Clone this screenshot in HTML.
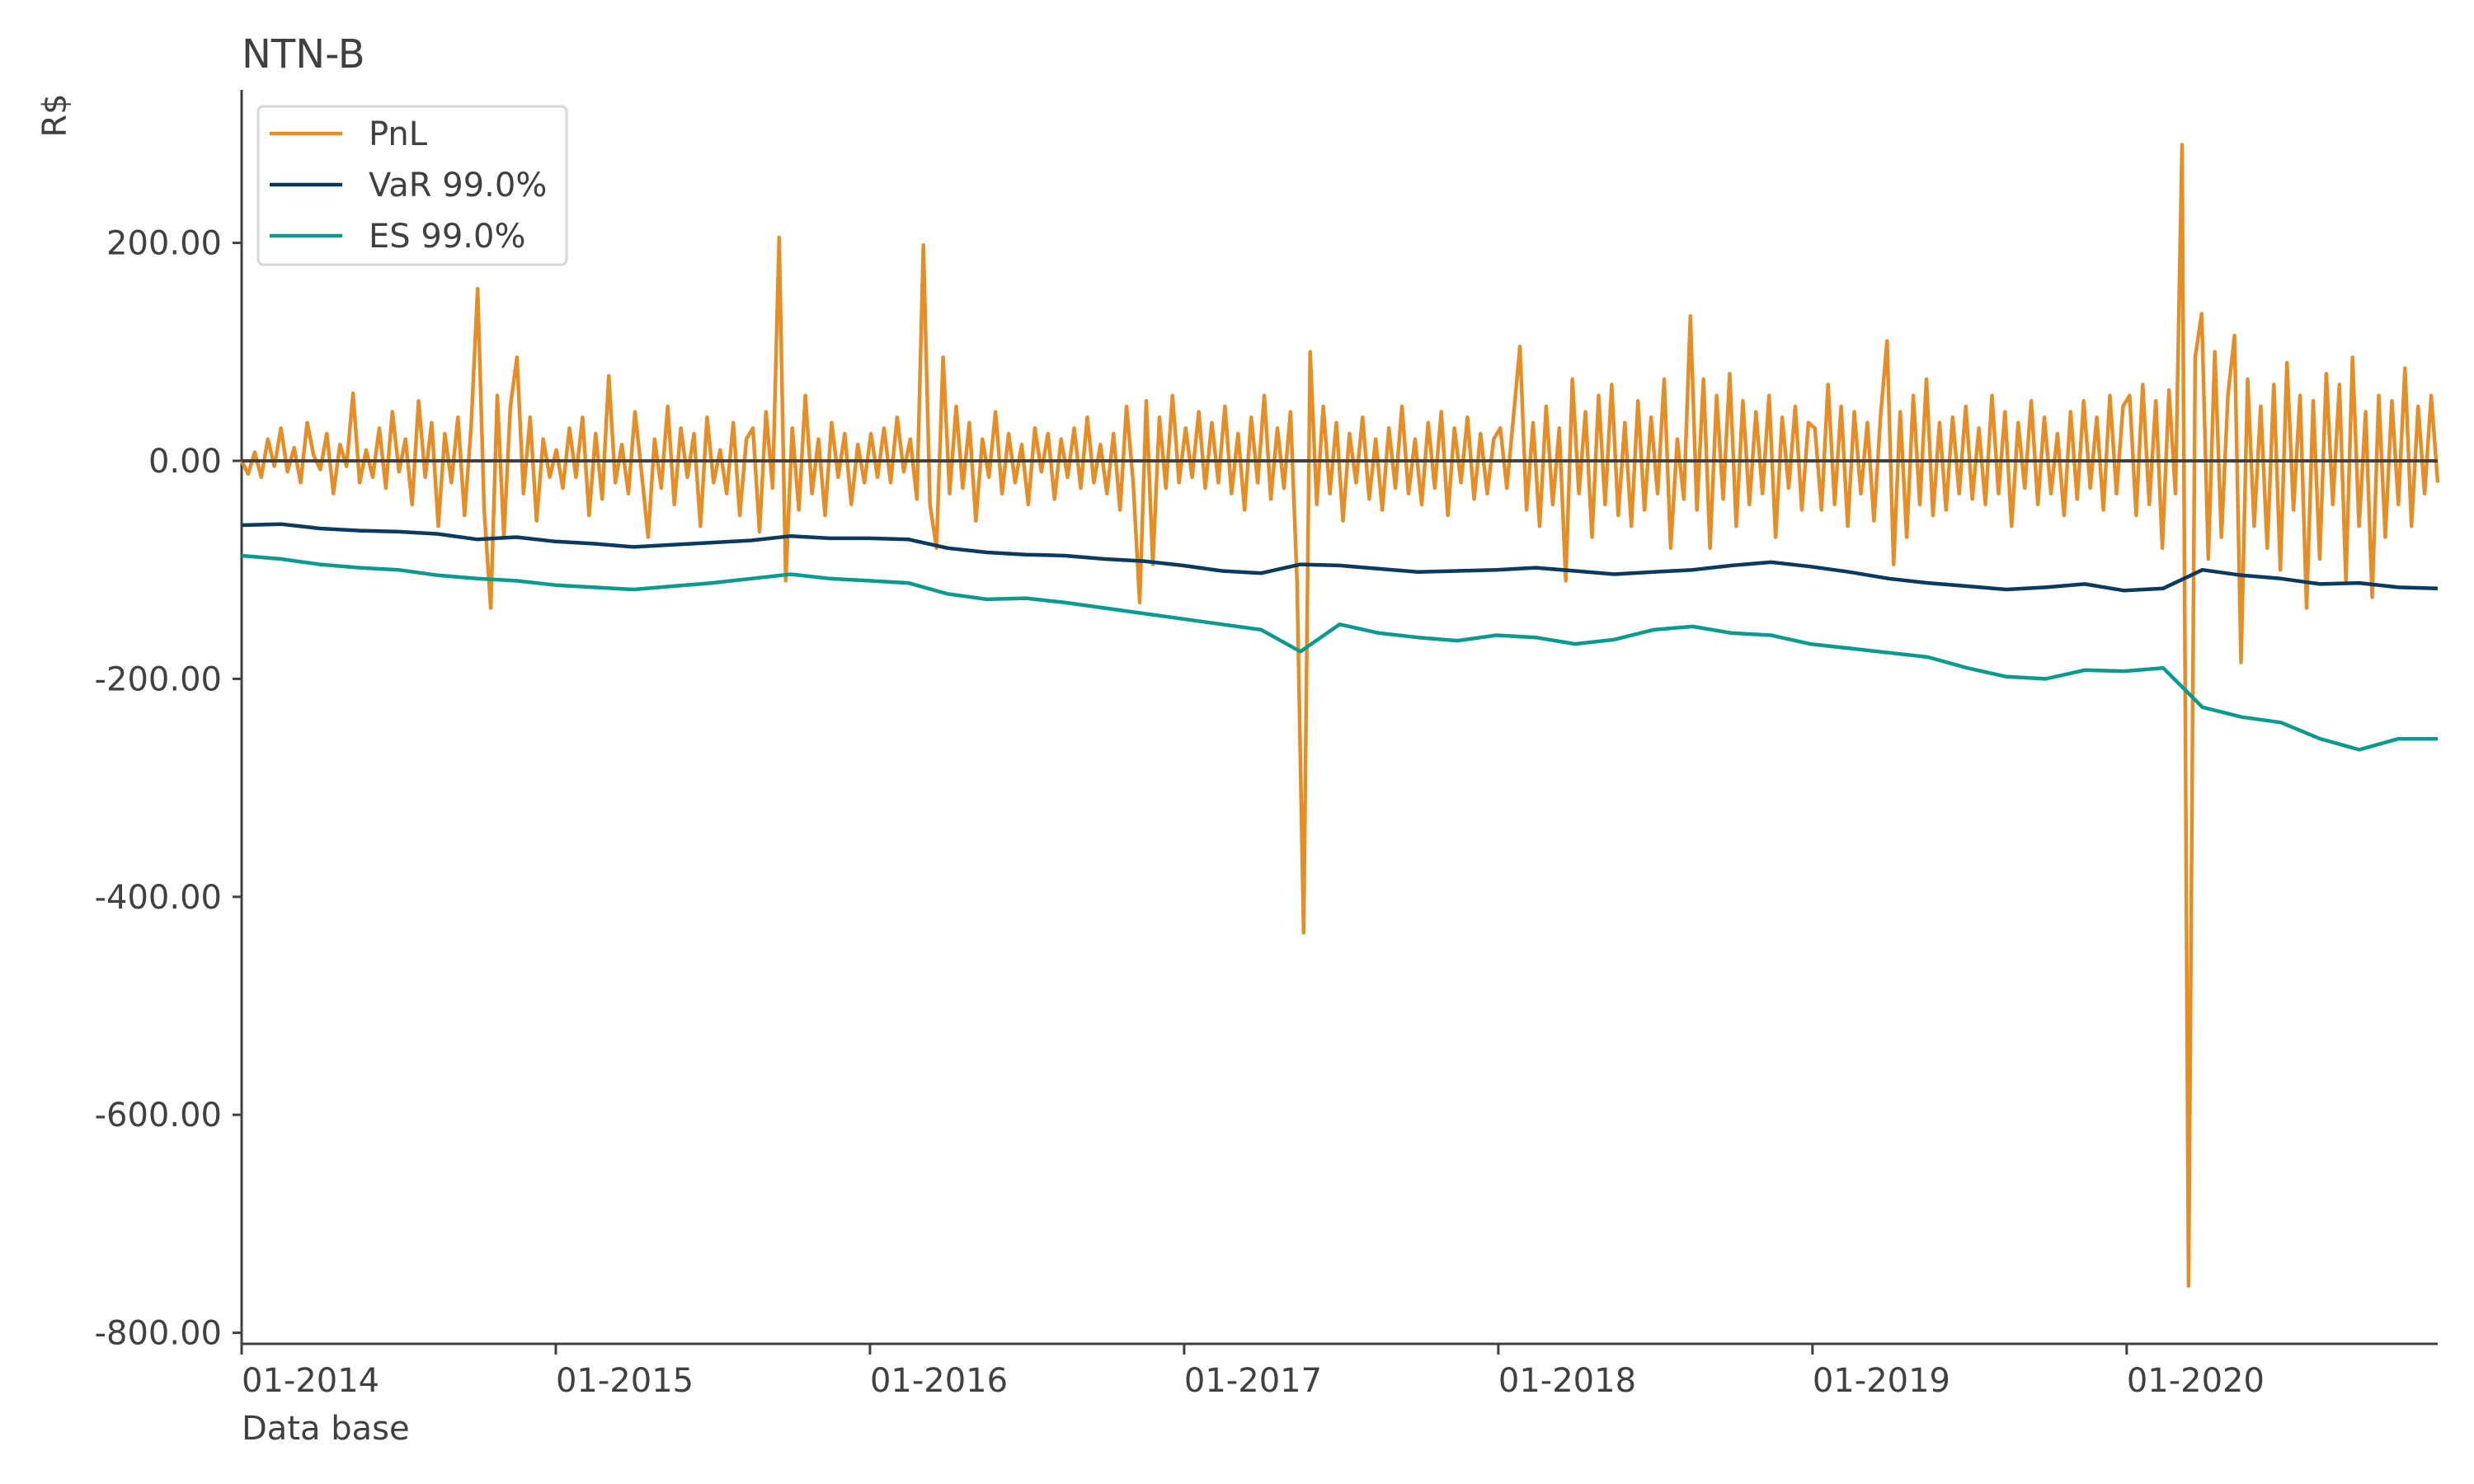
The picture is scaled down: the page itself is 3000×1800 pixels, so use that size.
<!DOCTYPE html>
<html><head><meta charset="utf-8">
<style>
html,body{margin:0;padding:0;background:#fff;}
svg{display:block;font-family:"DejaVu Sans","Liberation Sans",sans-serif;}
</style></head>
<body>
<svg id="chart" width="3000" height="1800" viewBox="0 0 3000 1800">
  <text x="293" y="82" font-size="48" fill="#404040">NTN-B</text>
  <text transform="translate(80,140) rotate(-90)" text-anchor="middle" font-size="40" fill="#404040">R$</text>
  <text x="293" y="1746" font-size="40" fill="#404040">Data base</text>
  <g id="grid"></g>
  <g id="xaxis"></g>
  <g id="series"></g>
  <g>
    <rect x="313" y="129" width="374" height="192" rx="6" fill="#fff" stroke="#d6d6d6" stroke-width="3"/>
    <line x1="327" y1="162" x2="415" y2="162" stroke="#e58e27" stroke-width="4.5"/>
    <text x="447" y="176" font-size="40" fill="#404040">PnL</text>
    <line x1="327" y1="224" x2="415" y2="224" stroke="#0b3a5e" stroke-width="4.5"/>
    <text x="447" y="238" font-size="40" fill="#404040">VaR 99.0%</text>
    <line x1="327" y1="286" x2="415" y2="286" stroke="#0a9a8f" stroke-width="4.5"/>
    <text x="447" y="300" font-size="40" fill="#404040">ES 99.0%</text>
  </g>
</svg>
<script>
const yTicks = [200, 0, -200, -400, -600, -800];
const yTickLabels = ["200.00", "0.00", "-200.00", "-400.00", "-600.00", "-800.00"];
const xTicks = [0, 1, 2, 3, 4, 5, 6];
const xTickLabels = ["01-2014", "01-2015", "01-2016", "01-2017", "01-2018", "01-2019", "01-2020"];
const pnl = [
0,-12,8,-15,20,-5,30,-10,12,-20,35,5,-8,25,-30,15,-5,62,-20,10,-15,30,-25,45,-10,20,-40,55,-15,35,-60,25,-20,40,-50,30,158,-45,-135,60,-70,50,95,-30,40,-55,20,-15,
10,-25,30,-15,40,-50,25,-35,78,-20,15,-30,45,-10,-70,20,-25,50,-40,30,-15,25,-60,40,-20,10,-30,35,-50,20,30,-65,45,-25,205,-110,30,-45,60,-30,20,-50,35,-15,25,-40,15,-20,
25,-15,30,-20,40,-10,20,-35,198,-40,-80,95,-30,50,-25,35,-55,20,-15,45,-30,25,-20,15,-40,30,-10,25,-35,20,-15,30,-25,40,-20,15,-30,25,-45,50,-20,-130,55,-95,40,-25,60,-20,
30,-15,45,-25,35,-20,50,-30,25,-45,40,-20,60,-35,30,-25,45,-110,-433,100,-40,50,-30,35,-55,25,-20,40,-35,20,-45,30,-25,50,-30,20,-40,35,-25,45,-50,30,-20,40,-35,25,-30,20,
30,-25,40,105,-45,35,-60,50,-40,30,-110,75,-30,45,-70,60,-40,70,-50,35,-60,55,-45,40,-30,75,-80,20,-35,133,-45,75,-80,60,-35,80,-60,55,-40,45,-30,60,-70,40,-25,50,-45,35,
30,-45,70,-40,50,-60,45,-30,35,-55,40,110,-95,45,-70,60,-40,75,-50,35,-45,40,-30,50,-35,30,-40,60,-30,45,-60,35,-25,55,-40,40,-30,25,-50,45,-35,55,-25,40,-45,60,-30,50,
60,-50,70,-40,55,-80,65,-30,290,-757,95,135,-90,100,-70,60,115,-185,75,-60,50,-80,70,-100,90,-45,60,-135,55,-90,80,-40,70,-110,95,-60,45,-125,60,-70,55,-40,85,-60,50,-30,60,-20
];
const varSeries = [
-59,-58,-62,-64,-65,-67,-72,-70,
-74,-76,-79,-77,-75,-73,-69,-71,
-71,-72,-80,-84,-86,-87,-90,-92,
-96,-101,-103,-95,-96,-99,-102,-101,
-100,-98,-101,-104,-102,-100,-96,-93,
-97,-102,-108,-112,-115,-118,-116,-113,
-119,-117,-100,-105,-108,-113,-112,-116,-117
];
const esSeries = [
-87,-90,-95,-98,-100,-105,-108,-110,
-114,-116,-118,-115,-112,-108,-104,-108,
-110,-112,-122,-127,-126,-130,-135,-140,
-145,-150,-155,-175,-150,-158,-162,-165,
-160,-162,-168,-164,-155,-152,-158,-160,
-168,-172,-176,-180,-190,-198,-200,-192,
-193,-190,-226,-235,-240,-255,-265,-255,-255
];
const X0 = 293, X1 = 2956, Y0 = 559, PPU = 264.4 / 200, SPAN = 6.99;
function xs(t){ return X0 + (t / SPAN) * (X1 - X0); }
function ys(v){ return Y0 - v * PPU; }
const NS = "http://www.w3.org/2000/svg";
function mk(tag, attrs, parent){
  const e = document.createElementNS(NS, tag);
  for (const k in attrs) e.setAttribute(k, attrs[k]);
  parent.appendChild(e); return e;
}
const grid = document.getElementById('grid');
const xaxis = document.getElementById('xaxis');
const series = document.getElementById('series');
let l = mk('line', {x1:X0, y1:109, x2:X0, y2:1631, stroke:'#404040', 'stroke-width':3}, grid);


yTicks.forEach((v, i) => {
  const t = mk('line', {x1:X0-11, y1:ys(v), x2:X0, y2:ys(v), stroke:'#404040', 'stroke-width':3}, grid);
  
  
  const tx = mk('text', {x:X0-24, y:ys(v)+14, 'text-anchor':'end', 'font-size':40, fill:'#404040'}, grid);
  tx.textContent = yTickLabels[i];
  
  
});
l = mk('line', {x1:X0-1, y1:1630, x2:X1, y2:1630, stroke:'#404040', 'stroke-width':3}, xaxis);


xTicks.forEach((v, i) => {
  const t = mk('line', {x1:xs(v), y1:1630, x2:xs(v), y2:1643, stroke:'#404040', 'stroke-width':3}, xaxis);
  
  
  const tx = mk('text', {x:xs(v), y:1688, 'font-size':40, fill:'#404040'}, xaxis);
  tx.textContent = xTickLabels[i];
  
  
});
function pathFor(arr){
  return arr.map((v, i) => (i ? 'L' : 'M') + xs(i * SPAN / (arr.length - 1)).toFixed(1) + ',' + ys(v).toFixed(1)).join('');
}
let p = mk('path', {d:pathFor(pnl), fill:'none', stroke:'#e58e27', 'stroke-width':4.5, 'stroke-linejoin':'round'}, series);


p = mk('path', {d:pathFor(varSeries), fill:'none', stroke:'#0b3a5e', 'stroke-width':4.5, 'stroke-linejoin':'round'}, series);


p = mk('path', {d:pathFor(esSeries), fill:'none', stroke:'#0a9a8f', 'stroke-width':4.5, 'stroke-linejoin':'round'}, series);


const z = mk('line', {x1:X0, y1:ys(0), x2:X1, y2:ys(0), stroke:'#404040', 'stroke-width':4}, series);


</script>
</body></html>
